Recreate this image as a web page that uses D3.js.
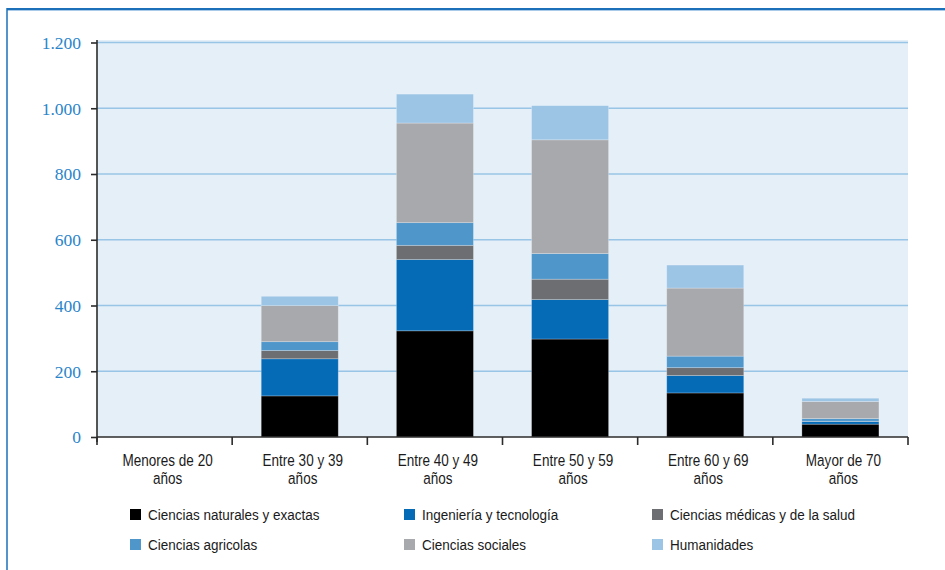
<!DOCTYPE html>
<html>
<head>
<meta charset="utf-8">
<script src="https://cdn.jsdelivr.net/npm/d3@7"></script>
<style>
  html, body { margin: 0; padding: 0; background: #ffffff; }
  svg { display: block; }
  .sans { font-family: "Liberation Sans", Arial, sans-serif; }
  .serif { font-family: "Liberation Serif", "Times New Roman", "DejaVu Serif", serif; }
</style>
</head>
<body>
<svg id="chart" width="945" height="570"></svg>
<script>
// Age groups (x axis)
const categories = [
  "Menores de 20 años",
  "Entre 30 y 39 años",
  "Entre 40 y 49 años",
  "Entre 50 y 59 años",
  "Entre 60 y 69 años",
  "Mayor de 70 años"
];

// Researchers per field, by age group
const naturales   = [0, 125, 323, 298, 134, 39];
const ingenieria  = [0, 113, 217, 120,  53,  8];
const medicas     = [0,  25,  43,  62,  24,  1];
const agricolas   = [0,  27,  69,  78,  35,  8];
const sociales    = [0, 110, 303, 346, 207, 52];
const humanidades = [0,  28,  88, 104,  70, 10];

const seriesNames = [
  "Ciencias naturales y exactas",
  "Ingeniería y tecnología",
  "Ciencias médicas y de la salud",
  "Ciencias agricolas",
  "Ciencias sociales",
  "Humanidades"
];
const seriesValues = [naturales, ingenieria, medicas, agricolas, sociales, humanidades];
const seriesColors = ["#000000", "#066bb6", "#6d6e72", "#4f96cb", "#a8a9ad", "#9cc4e5"];

const yTicks = [0, 200, 400, 600, 800, 1000, 1200];

(function draw() {
const svg = d3.select("#chart");

// outer frame
svg.append("line").attr("x1", 7).attr("x2", 945).attr("y1", 9).attr("y2", 9)
  .attr("stroke", "#1b70b9").attr("stroke-width", 2);
svg.append("line").attr("x1", 7).attr("x2", 945).attr("y1", 10.5).attr("y2", 10.5)
  .attr("stroke", "#a9cbe9").attr("stroke-width", 1);
svg.append("line").attr("x1", 7).attr("x2", 7).attr("y1", 8).attr("y2", 570)
  .attr("stroke", "#1b70b9").attr("stroke-width", 1.5);

const plotLeft = 97, plotRight = 908, plotTop = 40, plotBottom = 437;

const x = d3.scaleBand().domain(categories).range([plotLeft, plotRight]).paddingInner(0.43).paddingOuter(0.215);
const xAxisBand = d3.scaleBand().domain(categories).range([plotLeft, plotRight]);
const y = d3.scaleLinear().domain([0, 1200]).range([plotBottom, 42.5]);

// plot background
svg.append("rect").attr("x", plotLeft).attr("y", plotTop)
  .attr("width", plotRight - plotLeft).attr("height", plotBottom - plotTop)
  .attr("fill", "#e5eff8");

// gridlines
svg.append("g").selectAll("line").data(yTicks.filter(d => d > 0)).join("line")
  .attr("x1", plotLeft).attr("x2", plotRight)
  .attr("y1", d => y(d)).attr("y2", d => y(d))
  .attr("stroke", "#98c4e6").attr("stroke-width", 1.6);

// stacked bars
const rows = categories.map((c, i) => {
  const r = { category: c };
  seriesNames.forEach((s, k) => { r[s] = seriesValues[k][i]; });
  return r;
});
const stacked = d3.stack().keys(seriesNames)(rows);

svg.append("g").selectAll("g").data(stacked).join("g")
  .attr("fill", (d, k) => seriesColors[k])
  .selectAll("rect").data(d => d.filter(p => p[1] - p[0] > 0)).join("rect")
  .attr("x", p => x(p.data.category))
  .attr("width", x.bandwidth())
  .attr("y", p => y(p[1]))
  .attr("height", p => y(p[0]) - y(p[1]))
  .attr("stroke", "rgba(255,255,255,0.3)")
  .attr("stroke-width", 0.8);

// y axis
const fmt = d3.formatLocale({ decimal: ",", thousands: ".", grouping: [3], currency: ["", ""] }).format(",");
const yAxis = svg.append("g").attr("transform", `translate(${plotLeft},0)`)
  .call(d3.axisLeft(y).tickValues(yTicks).tickFormat(fmt).tickSize(6).tickPadding(10));
yAxis.attr("font-family", null).attr("font-size", null);
yAxis.select(".domain").attr("stroke", "#2b2b2b").attr("stroke-width", 1.6)
  .attr("d", `M0,${plotTop}V${plotBottom + 5}`);
yAxis.selectAll(".tick line").attr("stroke", "#2b2b2b").attr("stroke-width", 1.6);
yAxis.selectAll(".tick text")
  .attr("class", "serif")
  .attr("fill", "#2a84ca")
  .style("font-size", "17.5px")
  .attr("dy", "0.34em");

// x axis
const xAxis = svg.append("g").attr("transform", `translate(0,${plotBottom})`);
xAxis.append("line").attr("x1", plotLeft).attr("x2", plotRight).attr("y1", 0).attr("y2", 0)
  .attr("stroke", "#2b2b2b").attr("stroke-width", 1.6);
const tickXs = categories.map(c => xAxisBand(c)).concat([plotRight]);
xAxis.selectAll("line.tk").data(tickXs).join("line").attr("class", "tk")
  .attr("x1", d => d).attr("x2", d => d).attr("y1", 0).attr("y2", 8)
  .attr("stroke", "#2b2b2b").attr("stroke-width", 1.6);

const labels = xAxis.selectAll("text").data(categories).join("text")
  .attr("class", "sans")
  .attr("text-anchor", "middle")
  .style("font-size", "16.5px")
  .attr("fill", "#1a1a1a")
  .attr("transform", d => `translate(${xAxisBand(d) + xAxisBand.bandwidth() / 2 + 3},0) scale(0.82,1)`);
labels.append("tspan").attr("x", 0).attr("y", 29).text(d => d.replace(/ años$/, ""));
labels.append("tspan").attr("x", 0).attr("y", 47).text("años");

// legend
const legendCols = [130, 404, 652];
const legendRows = [509, 539];
const legend = svg.append("g").selectAll("g").data(seriesNames).join("g")
  .attr("transform", (d, i) => `translate(${legendCols[i % 3]},${legendRows[Math.floor(i / 3)]})`);
legend.append("rect").attr("width", 11).attr("height", 11).attr("fill", (d, i) => seriesColors[i]);
legend.append("text").attr("class", "sans")
  .attr("transform", "translate(18,11) scale(0.87,1)")
  .style("font-size", "15.5px").attr("fill", "#1a1a1a")
  .text(d => d);
})();
</script>
</body>
</html>
